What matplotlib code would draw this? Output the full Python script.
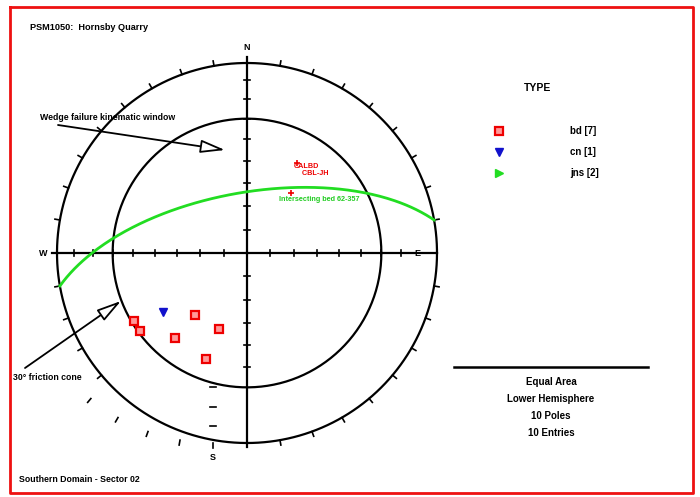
import numpy as np
import matplotlib
matplotlib.use("Agg")
import matplotlib.pyplot as plt

plt.rcParams['font.family'] = ['Liberation Sans', 'DejaVu Sans']

# poles (trend, plunge in degrees)
bd_trend = [220, 200, 220, 201, 239, 234]
bd_plunge = [55, 55, 41, 40, 31, 31]
cn_trend = [235]
cn_plunge = [45]
# joint plane (dip direction / dip)
jns_dipdir = [350]
jns_dip = [64]
# intersection points
ix_trend = [29, 36]
ix_plunge = [45, 58]
ix_labels = ["CALBD\n    CBL-JH", "Intersecting bed 62-357"]

legend_names = ["bd [7]", "cn [1]", "jns [2]"]
info_lines = ["Equal Area", "Lower Hemisphere", "10 Poles", "10 Entries"]
friction_plunge = 30

# net placement in pixel space
cx, cy, R = 247, 253, 190
shift = -34  # lower-left part of the net is offset in the original


def proj(trend, plunge):
    t = np.radians(np.asarray(trend, float))
    r = np.sqrt(2) * np.sin(np.radians(90 - np.asarray(plunge, float)) / 2)
    return cx + R * r * np.sin(t), cy - R * r * np.cos(t)


fig = plt.figure(figsize=(7, 4.97), dpi=100)
ax = fig.add_axes([0, 0, 1, 1])
ax.set_xlim(0, 700)
ax.set_ylim(497, 0)
ax.axis('off')

# red frame
ax.plot([10, 693, 693, 10, 10], [7, 7, 493, 493, 7], color='#ee1111', lw=2)

# primitive and friction cone circles
a = np.linspace(0, 2 * np.pi, 400)
ax.plot(cx + R * np.cos(a), cy + R * np.sin(a), color='black', lw=1.6)
rc = np.sqrt(2) * np.sin(np.radians(90 - friction_plunge) / 2)
ax.plot(cx + R * rc * np.cos(a), cy + R * rc * np.sin(a), color='black', lw=1.6)

# cross
ax.plot([52, cx], [cy, cy], color='black', lw=1.6)
ax.plot([cx, 436], [cy, cy], color='black', lw=1.6)
ax.plot([cx, cx], [57, 447], color='black', lw=1.6)

# azimuth ticks
for az in range(10, 360, 10):
    if az % 90 == 0 and az != 180:
        continue
    t = np.radians(az)
    x0, y0 = cx + R * np.sin(t), cy - R * np.cos(t)
    x1, y1 = cx + (R + 5) * np.sin(t), cy - (R + 5) * np.cos(t)
    dx = shift if 180 <= az <= 220 else 0
    ax.plot([x0 + dx, x1 + dx], [y0, y1], color='black', lw=1.2)

# plunge ticks on the axes
for p in range(10, 90, 10):
    r = R * np.sqrt(2) * np.sin(np.radians(90 - p) / 2)
    ax.plot([cx - 3, cx + 3], [cy - r, cy - r], color='black', lw=1.2)
    sx = shift if p <= 30 else 0
    ax.plot([cx - 3 + sx, cx + 3 + sx], [cy + r, cy + r], color='black', lw=1.2)
    ax.plot([cx - r, cx - r], [cy - 3, cy + 3], color='black', lw=1.2)
    if p > 10:
        ax.plot([cx + r, cx + r], [cy - 3, cy + 3], color='black', lw=1.2)

lab = dict(fontsize=6.5, fontweight='bold', ha='center', va='center')
ax.text(cx, 47, "N", **lab)
ax.text(43, cy, "W", **lab)
ax.text(417, cy, "E", **lab)
ax.text(cx + shift, 457, "S", **lab)

# joint plane great circle
for dd, dip in zip(jns_dipdir, jns_dip):
    st = np.radians(dd - 90)
    d = np.radians(dd)
    dp = np.radians(dip)
    s = np.array([np.sin(st), np.cos(st), 0.0])
    v = np.array([np.sin(d) * np.cos(dp), np.cos(d) * np.cos(dp), np.sin(dp)])
    tt = np.linspace(0, np.pi, 200)
    L = np.outer(np.cos(tt), s) + np.outer(np.sin(tt), v)
    tr = np.degrees(np.arctan2(L[:, 0], L[:, 1]))
    pl = np.degrees(np.arcsin(np.clip(L[:, 2], -1, 1)))
    gx, gy = proj(tr, pl)
    ax.plot(gx, gy, color='#22dd22', lw=2.0)

# poles
bx, by = proj(bd_trend, bd_plunge)
ax.plot(bx, by, 's', ms=5.5, mfc='#ff9999', mec='#ee0000', mew=1.6, ls='none')
nx, ny = proj(cn_trend, cn_plunge)
ax.plot(nx, ny, 'v', ms=5.5, color='#1111cc', ls='none')

# intersections
ixx, ixy = proj(ix_trend, ix_plunge)
ax.plot(ixx, ixy, '+', ms=4, color='#ee0000', mew=1.2, ls='none')
ax.text(ixx[0] - 3, ixy[0] + 7, ix_labels[0], color='#ee0000', fontsize=5.2,
        fontweight='bold', ha='left', va='center', linespacing=0.9)
ax.text(ixx[1] + 29, ixy[1] + 6, ix_labels[1], color='#22cc22', fontsize=5.2,
        fontweight='bold', ha='center', va='center')

# annotations with open arrow heads
arr = dict(arrowstyle='-|>,head_length=1.5,head_width=0.4', fc='white',
           ec='black', lw=1.3, shrinkA=0, shrinkB=0)
ax.annotate("", xy=(225, 150), xytext=(58, 125), arrowprops=arr)
ax.text(40, 117, "Wedge failure kinematic window", fontsize=6.3,
        fontweight='bold', ha='left', va='center')
ax.annotate("", xy=(121, 301), xytext=(25, 368), arrowprops=arr)
ax.text(13, 377, "30° friction cone", fontsize=6.3, fontweight='bold',
        ha='left', va='center')

ax.text(30, 28, "PSM1050:  Hornsby Quarry", fontsize=6.6, fontweight='bold',
        ha='left', va='center')
ax.text(19, 479, "Southern Domain - Sector 02", fontsize=6.3, fontweight='bold',
        ha='left', va='center')

# legend
ax.text(524, 88, "TYPE", fontsize=7.5, fontweight='bold', ha='left', va='center')
leg_y = [131, 152, 173]
ax.plot([499], [leg_y[0]], 's', ms=5.5, mfc='#ff9999', mec='#ee0000', mew=1.6)
ax.plot([499], [leg_y[1]], 'v', ms=5.5, color='#1111cc')
ax.plot([499], [leg_y[2]], '>', ms=5.5, color='#22dd22')
for name, y in zip(legend_names, leg_y):
    ax.text(570, y, name, fontsize=7, fontweight='bold', ha='left', va='center')

# info block
ax.plot([454, 648], [367, 367], color='black', lw=1.8)
for i, line in enumerate(info_lines):
    ax.text(551, 382 + i * 17, line, fontsize=7, fontweight='bold',
            ha='center', va='center')

fig.savefig("out.png", dpi=100)
